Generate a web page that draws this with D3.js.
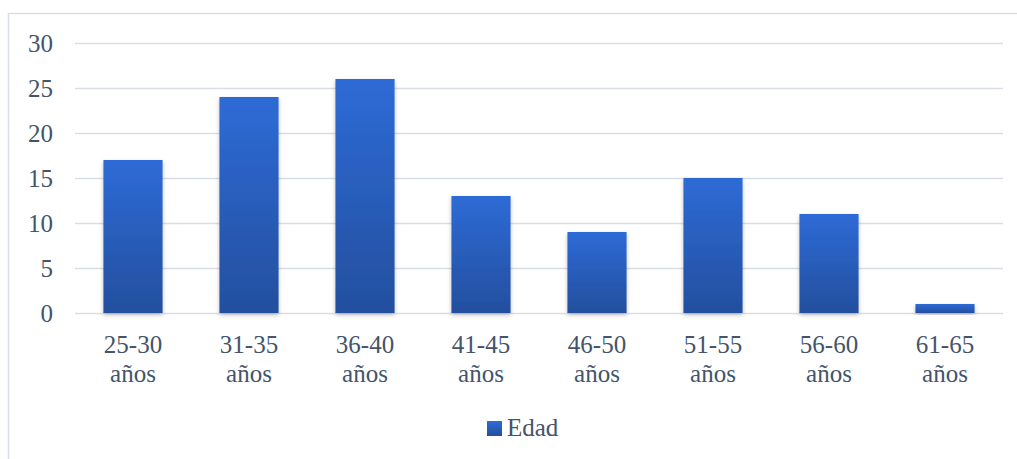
<!DOCTYPE html>
<html><head><meta charset="utf-8">
<script src="https://cdn.jsdelivr.net/npm/d3@7"></script>
<style>body{margin:0;background:#fff;} svg{display:block;} text{font-family:"Liberation Serif","Times New Roman",Tinos,"DejaVu Serif",serif !important;}</style>
</head><body>
<svg id="chart" width="1017" height="459"></svg>
<script>
const categories = ["25-30 años","31-35 años","36-40 años","41-45 años","46-50 años","51-55 años","56-60 años","61-65 años"];
const values = [17, 24, 26, 13, 9, 15, 11, 1];
const yTicks = [0, 5, 10, 15, 20, 25, 30];
const seriesName = "Edad";

const svg = d3.select("#chart");
const textColor = "#44546a";
const fs = 25;

// frame
svg.append("path").attr("d","M8.5,459 L8.5,13.5 L1017,13.5")
  .attr("fill","none").attr("stroke","#d9dee6").attr("stroke-width",1.5);

const defs = svg.append("defs");
const grad = defs.append("linearGradient").attr("id","barGrad").attr("x1",0).attr("x2",0).attr("y1",0).attr("y2",1);
grad.append("stop").attr("offset","0%").attr("stop-color","#2e6bd6");
grad.append("stop").attr("offset","100%").attr("stop-color","#234f9e");
const filt = defs.append("filter").attr("id","shadow").attr("x","-20%").attr("y","-10%").attr("width","140%").attr("height","130%");
filt.append("feDropShadow").attr("dx",0).attr("dy",2).attr("stdDeviation",2).attr("flood-color","#000").attr("flood-opacity",0.25);

const x = d3.scaleBand().domain(categories).range([75, 1003]).paddingInner(0.49).paddingOuter(0.245);
const y = d3.scaleLinear().domain([0, 30]).range([313, 43]);

// gridlines
svg.append("g").selectAll("line").data(yTicks).join("line")
  .attr("x1",75).attr("x2",1003)
  .attr("y1",d=>y(d)+0.5).attr("y2",d=>y(d)+0.5)
  .attr("stroke","#d9dee6").attr("stroke-width",1.5);

// y axis labels
const yAxis = d3.axisLeft(y).tickValues(yTicks).tickSize(0).tickPadding(0);
const gy = svg.append("g").attr("transform","translate(53,0)").call(yAxis);
gy.attr("font-family",null).attr("font-size",null);
gy.select(".domain").remove();
gy.selectAll("text").attr("font-size",fs).attr("fill",textColor).attr("dy","0.33em");

// bars
svg.append("g").selectAll("rect").data(values).join("rect")
  .attr("x",(d,i)=>x(categories[i]))
  .attr("width",x.bandwidth())
  .attr("y",d=>y(d))
  .attr("height",d=>y(0)-y(d))
  .attr("fill","url(#barGrad)")
  .attr("filter","url(#shadow)");

// x labels
const xAxis = d3.axisBottom(x).tickSize(0).tickPadding(0);
const gx = svg.append("g").attr("transform","translate(0,313)").call(xAxis);
gx.attr("font-family",null).attr("font-size",null);
gx.select(".domain").remove();
gx.selectAll("text").each(function(d){
  const t = d3.select(this);
  const parts = d.split(" ");
  t.text(null).attr("y",0).attr("dy",null);
  parts.forEach((p,k)=>{
    t.append("tspan").attr("x",0).attr("y",40 + k*29).text(p);
  });
}).attr("font-size",fs).attr("fill",textColor);

// legend
const lg = svg.append("g");
lg.append("rect").attr("x",487).attr("y",421).attr("width",15).attr("height",15).attr("fill","url(#barGrad)");
lg.append("text").attr("x",507).attr("y",436).text(seriesName)
  .attr("font-size",fs).attr("fill",textColor);
</script>
</body></html>
